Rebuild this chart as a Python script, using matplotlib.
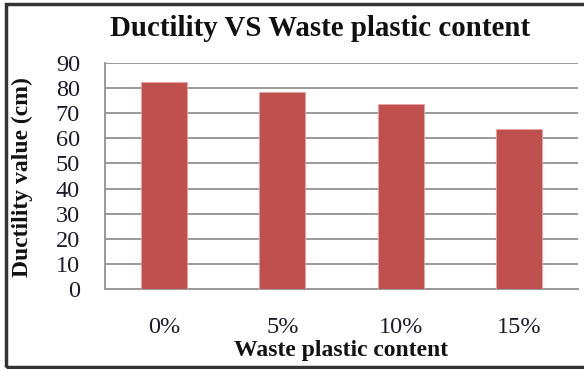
import matplotlib
matplotlib.use("Agg")
import matplotlib.pyplot as plt
from matplotlib.patches import Rectangle

categories = ["0%", "5%", "10%", "15%"]
ductility = [82.3, 78.4, 73.6, 63.8]
y_ticks = [0, 10, 20, 30, 40, 50, 60, 70, 80, 90]

W, H = 584, 369
fig = plt.figure(figsize=(W / 100, H / 100), dpi=100)
plt.rcParams["font.family"] = ["Liberation Serif", "DejaVu Serif"]

ax = fig.add_axes([105 / W, 1 - 289 / H, (578 - 105) / W, (289 - 63) / H])
x = range(len(categories))
ax.bar(x, ductility, width=0.39, color="#C0504D", edgecolor="#E8A5A3",
       linewidth=0.6, zorder=3)
ax.set_xlim(-0.5, len(categories) - 0.5)
ax.set_ylim(0, 90)
ax.set_yticks(y_ticks)
ax.set_yticklabels([str(v) for v in y_ticks], fontsize=17.5, color="#1a1a2a")
ax.set_xticks(list(x))
ax.set_xticklabels(categories, fontsize=17.5, color="#1a1a2a")
ax.tick_params(axis="y", length=0, pad=18)
ax.tick_params(axis="x", length=0, pad=20)
ax.yaxis.grid(True, color="#999999", linewidth=1.4, zorder=0)
for s in ["top", "right"]:
    ax.spines[s].set_visible(False)
for s in ["left", "bottom"]:
    ax.spines[s].set_color("#999999")
    ax.spines[s].set_linewidth(1.4)

ax.set_xlabel("Waste plastic content", fontsize=17, fontweight="bold",
              labelpad=0, color="#111111")
ax.xaxis.set_label_coords(0.5, -0.225)
ax.set_ylabel("Ductility value (cm)", fontsize=17, fontweight="bold",
              color="#111111")
ax.yaxis.set_label_coords(-0.152, 0.495)

fig.text(320 / W, 1 - 28 / H, "Ductility VS Waste plastic content",
         ha="center", va="center", fontsize=20.8, fontweight="bold",
         color="#111111")

fig.patches.append(Rectangle((6 / W, 2 / H), 1.0, 1 - 6 / H,
                             transform=fig.transFigure, fill=False,
                             edgecolor="#333333", linewidth=2.5))

fig.savefig("out.png", dpi=100)
